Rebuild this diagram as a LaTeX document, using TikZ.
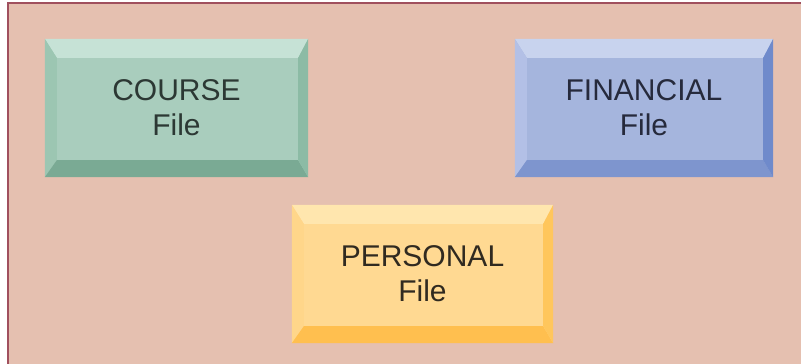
\documentclass[tikz,border=0pt]{standalone}
\usepackage{fontspec}
\setmainfont{Liberation Sans}
\usepackage{tikz}

\definecolor{bgsalmon}{HTML}{E5C0B0}
\definecolor{frameline}{HTML}{A0505E}
\definecolor{courseface}{HTML}{A9CDBD}
\definecolor{coursetop}{HTML}{C6E2D6}
\definecolor{courseleft}{HTML}{9CC6B2}
\definecolor{courseright}{HTML}{8CBBA5}
\definecolor{coursebot}{HTML}{7AAA94}
\definecolor{coursetext}{HTML}{2C3834}
\definecolor{finface}{HTML}{A5B5DD}
\definecolor{fintop}{HTML}{C8D3EE}
\definecolor{finleft}{HTML}{B3C0E6}
\definecolor{finright}{HTML}{6F8ACB}
\definecolor{finbot}{HTML}{7E95CE}
\definecolor{fintext}{HTML}{262A3C}
\definecolor{persface}{HTML}{FFD992}
\definecolor{perstop}{HTML}{FFE6AE}
\definecolor{persleft}{HTML}{FFD68A}
\definecolor{persright}{HTML}{FFC65C}
\definecolor{persbot}{HTML}{FFBF4F}
\definecolor{perstext}{HTML}{302A20}

\tikzset{filebox/.style={minimum width=261pt, minimum height=138pt, inner sep=0pt,
    align=center, font=\fontsize{30}{35}\selectfont}}

% bevels: node, top, left, bottom, right
\newcommand{\bevels}[5]{
    \fill[#2] (#1.north west) -- (#1.north east) -- ([shift={(-10pt,-19pt)}]#1.north east) -- ([shift={(12pt,-19pt)}]#1.north west) -- cycle;
    \fill[#3] (#1.north west) -- ([shift={(12pt,-19pt)}]#1.north west) -- ([shift={(12pt,17pt)}]#1.south west) -- (#1.south west) -- cycle;
    \fill[#4] (#1.south west) -- ([shift={(12pt,17pt)}]#1.south west) -- ([shift={(-10pt,17pt)}]#1.south east) -- (#1.south east) -- cycle;
    \fill[#5] (#1.north east) -- (#1.south east) -- ([shift={(-10pt,17pt)}]#1.south east) -- ([shift={(-10pt,-19pt)}]#1.north east) -- cycle;
}

\begin{document}
\begin{tikzpicture}[x=1pt, y=1pt]
    \useasboundingbox (0,0) rectangle (801,364);
    \fill[bgsalmon] (8,0) rectangle (801,361);
    \draw[frameline, line width=2pt] (8,0) -- (8,361) -- (801,361);
    \node[filebox, fill=courseface, text=coursetext, minimum width=263pt] (course) at (176.5,256) {COURSE\\File};
    \node[filebox, fill=finface, text=fintext, minimum width=258pt] (financial) at (644,256) {FINANCIAL\\File};
    \node[filebox, fill=persface, text=perstext] (personal) at (422.5,90) {PERSONAL\\File};
    \bevels{course}{coursetop}{courseleft}{coursebot}{courseright}
    \bevels{financial}{fintop}{finleft}{finbot}{finright}
    \bevels{personal}{perstop}{persleft}{persbot}{persright}
\end{tikzpicture}
\end{document}
